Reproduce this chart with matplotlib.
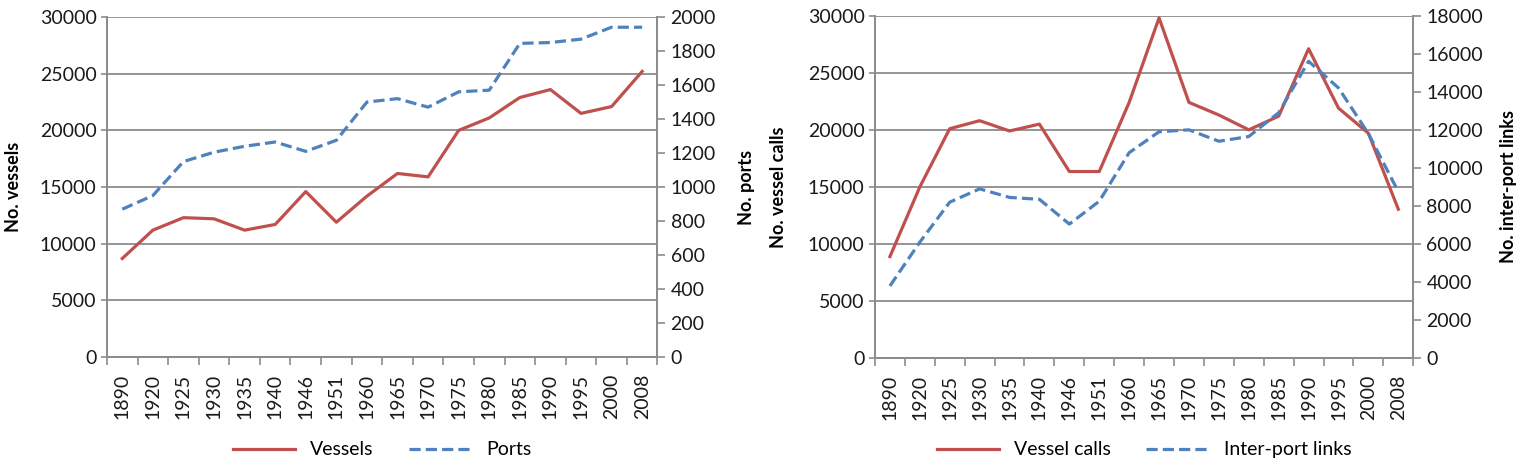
import matplotlib.pyplot as plt
from matplotlib.ticker import FixedLocator

# data
years = ["1890", "1920", "1925", "1930", "1935", "1940", "1946", "1951", "1960",
         "1965", "1970", "1975", "1980", "1985", "1990", "1995", "2000", "2008"]

vessels = [8700, 11200, 12300, 12200, 11200, 11700, 14600, 11900, 14200,
           16200, 15900, 20000, 21100, 22900, 23600, 21500, 22100, 25200]
ports = [870, 950, 1150, 1205, 1240, 1265, 1210, 1275, 1500,
         1520, 1470, 1560, 1570, 1845, 1850, 1870, 1940, 1940]

vessel_calls = [8900, 15000, 20100, 20800, 19900, 20500, 16350, 16350, 22400,
                29800, 22400, 21300, 20000, 21200, 27100, 21900, 19700, 13050]
links = [3800, 6100, 8200, 8900, 8450, 8350, 7050, 8250, 10800,
         11900, 12000, 11400, 11650, 12900, 15600, 14200, 11800, 8750]

RED = "#C0504D"
BLUE = "#4F81BD"
GRID = "#8C8C8C"
TXT = "#1a1a1a"

plt.rcParams["font.family"] = ["Lato", "DejaVu Sans"]
plt.rcParams["font.size"] = 14

fig = plt.figure(figsize=(15.35, 4.73), dpi=100)


def make_panel(rect, s1, s2, lab1, lab2, ymax2, ystep2, ylab1, ylab2, xl1, xl2):
    ax = fig.add_axes(rect)
    ax2 = ax.twinx()
    x = list(range(len(years)))
    l1, = ax.plot(x, s1, color=RED, lw=2.3, label=lab1, zorder=3)
    l2, = ax2.plot(x, s2, color=BLUE, lw=2.3, ls=(0, (3.5, 1.6)), label=lab2, zorder=3)

    ax.set_xlim(-0.5, len(years) - 0.5)
    ax.set_ylim(0, 30000)
    ax.set_yticks(range(0, 30001, 5000))
    ax2.set_ylim(0, ymax2)
    ax2.set_yticks(range(0, ymax2 + 1, ystep2))

    ax.set_xticks(x)
    ax.set_xticklabels(years, rotation=90, color=TXT)
    ax.xaxis.set_minor_locator(FixedLocator([i - 0.5 for i in range(len(years) + 1)]))
    ax.tick_params(axis="x", which="major", length=0, pad=12)
    ax.tick_params(axis="x", which="minor", length=6, color=GRID, width=1.2)
    ax.tick_params(axis="y", length=4, color=GRID, width=1.2, colors=TXT)
    ax2.tick_params(axis="y", length=6, color=GRID, width=1.2, colors=TXT)

    ax.yaxis.grid(True, color=GRID, lw=1.3)
    ax.set_axisbelow(True)
    for a in (ax, ax2):
        a.spines["top"].set_visible(False)
        for s in ("left", "right", "bottom"):
            a.spines[s].set_color(GRID)
            a.spines[s].set_linewidth(1.3)

    ax.set_ylabel(ylab1, fontweight="bold", fontsize=13)
    ax.yaxis.set_label_coords(xl1, 0.5)
    ax2.set_ylabel(ylab2, fontweight="bold", fontsize=13, rotation=90)
    ax2.yaxis.set_label_coords(xl2, 0.5)

    cx = rect[0] + rect[2] / 2
    fig.legend(handles=[l1, l2], loc="center", bbox_to_anchor=(cx, 0.049),
               ncol=2, frameon=False, handlelength=3.2, columnspacing=1.8,
               fontsize=14)
    return ax, ax2


make_panel([0.0697, 0.245, 0.3586, 0.719], vessels, ports, "Vessels", "Ports",
           2000, 200, "No. vessels", "No. ports", -0.155, 1.146)
make_panel([0.570, 0.2425, 0.3507, 0.7245], vessel_calls, links, "Vessel calls",
           "Inter-port links", 18000, 2000, "No. vessel calls", "No. inter-port links",
           -0.164, 1.162)

fig.savefig("out.png", dpi=100)
